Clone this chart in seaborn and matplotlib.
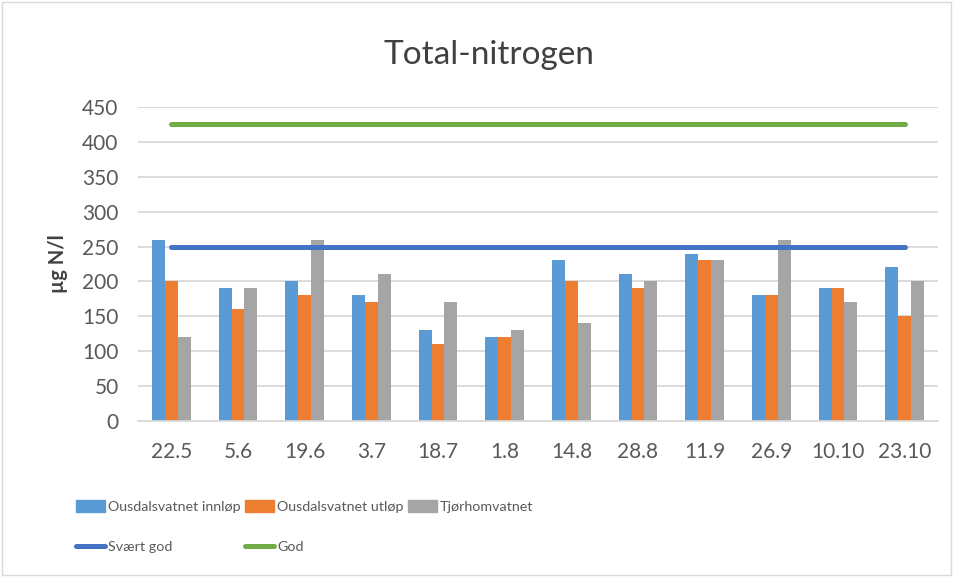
import matplotlib
matplotlib.use("Agg")
import matplotlib.pyplot as plt
import seaborn as sns
import pandas as pd
import numpy as np
from matplotlib.lines import Line2D
from matplotlib.patches import Patch, Rectangle

# sampling dates
dates = ["22.5", "5.6", "19.6", "3.7", "18.7", "1.8", "14.8", "28.8",
         "11.9", "26.9", "10.10", "23.10"]
innlop = [260, 190, 200, 180, 130, 120, 230, 210, 240, 180, 190, 220]
utlop = [200, 160, 180, 170, 110, 120, 200, 190, 230, 180, 190, 150]
tjorhom = [120, 190, 260, 210, 170, 130, 140, 200, 230, 260, 170, 200]
svaert_god = [250, 250, 250, 250, 250, 250, 250, 250, 250, 250, 250, 250]
god = [425, 425, 425, 425, 425, 425, 425, 425, 425, 425, 425, 425]

series_names = ["Ousdalsvatnet innløp", "Ousdalsvatnet utløp", "Tjørhomvatnet"]
bar_colors = ["#5B9BD5", "#ED7D31", "#A5A5A5"]

df = pd.DataFrame({
    "dato": dates * 3,
    "verdi": innlop + utlop + tjorhom,
    "stasjon": np.repeat(series_names, len(dates)),
})

sns.set_theme(style="white")
plt.rcParams["font.family"] = ["Lato", "DejaVu Sans"]

fig = plt.figure(figsize=(9.55, 5.77), dpi=100)
ax = fig.add_axes([0.1445, 0.2704, 0.8377, 0.5442])

sns.barplot(data=df, x="dato", y="verdi", hue="stasjon", order=dates,
            hue_order=series_names, palette=bar_colors, width=0.58, gap=0,
            saturation=1, edgecolor="none", linewidth=0, ax=ax, legend=False)

# threshold lines (class limits)
xpos = np.arange(len(dates))
ax.plot(xpos, svaert_god, color="#4472C4", lw=3.6, solid_capstyle="round")
ax.plot(xpos, god, color="#70AD47", lw=3.6, solid_capstyle="round")

ax.set_ylim(0, 450)
ax.set_xlim(-0.5, len(dates) - 0.5)
ax.set_yticks(range(0, 451, 50))
ax.yaxis.grid(True, color="#D9D9D9", lw=1.3)
ax.set_axisbelow(True)
for s in ["top", "right", "left"]:
    ax.spines[s].set_visible(False)
ax.spines["bottom"].set_color("#D9D9D9")
ax.spines["bottom"].set_linewidth(1.3)
ax.tick_params(axis="both", length=0, labelsize=15, labelcolor="#595959")
ax.tick_params(axis="x", pad=15)
ax.tick_params(axis="y", pad=14)
ax.set_xlabel("")
ax.set_ylabel("µg N/l", fontsize=14.5, fontweight="bold", color="#404040", labelpad=10)

fig.text(0.512, 0.905, "Total-nitrogen", ha="center", va="center",
         fontsize=24, color="#404040")

handles = [
    Patch(color=bar_colors[0]),
    Line2D([], [], color="#4472C4", lw=3.6, solid_capstyle="round"),
    Patch(color=bar_colors[1]),
    Line2D([], [], color="#70AD47", lw=3.6, solid_capstyle="round"),
    Patch(color=bar_colors[2]),
]
labels = [series_names[0], "Svært god", series_names[1], "God", series_names[2]]
fig.legend(handles, labels, ncol=3, loc="upper left",
           bbox_to_anchor=(0.074, 0.143), frameon=False, fontsize=10.3,
           labelcolor="#595959", handlelength=2.0, handleheight=0.85,
           handletextpad=0.2, columnspacing=0.35, labelspacing=1.95,
           borderaxespad=0)

fig.add_artist(Rectangle((0.002, 0.003), 0.994, 0.994, transform=fig.transFigure,
                         fill=False, edgecolor="#D9D9D9", lw=1))

fig.savefig("out.png", dpi=100)
